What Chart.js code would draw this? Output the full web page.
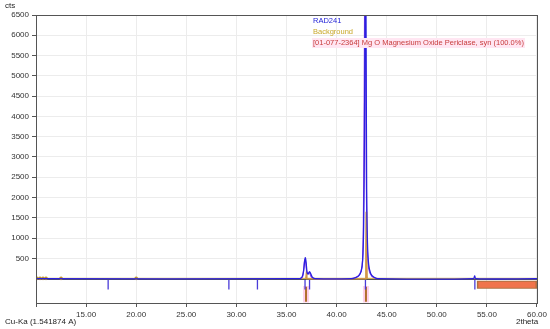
<!DOCTYPE html>
<html>
<head>
<meta charset="utf-8">
<script src="https://cdn.jsdelivr.net/npm/chart.js@4/dist/chart.umd.min.js"></script>
<style>
  html, body { margin: 0; padding: 0; background: #fff; }
  #wrap { width: 550px; height: 329px; }
</style>
</head>
<body>
<div id="wrap"><canvas id="xrd" width="550" height="329"></canvas></div>
<script>
// measured pattern RAD241 (2theta, counts)
const rad241Theta = [10, 36.3, 36.55, 36.7, 36.8, 36.87, 36.95, 37.05, 37.15, 37.3, 37.42, 37.6, 37.9,
  41.5, 41.9, 42.2, 42.45, 42.6, 42.7, 42.78, 42.84, 42.88, 42.93, 43.0, 43.08, 43.2, 43.4, 43.7, 44.1,
  53.65, 53.78, 53.9, 60];
const rad241Cts = [0, 0, 40, 180, 400, 520, 420, 160, 110, 175, 120, 30, 0,
  0, 25, 70, 180, 450, 1300, 3500, 6600, 7800, 6800, 2200, 900, 350, 130, 40, 0,
  0, 70, 0, 0];

// calculated profile (violet)
const profileTheta = [36.3, 36.6, 36.72, 36.82, 36.92, 37.05, 37.2, 37.3, 37.45, 37.8,
  41.4, 41.9, 42.3, 42.55, 42.66, 42.74, 42.8, 42.85, 42.95, 43.05, 43.2, 43.5, 44.0];
const profileCts = [0, 40, 250, 470, 380, 130, 140, 150, 50, 0,
  0, 30, 100, 320, 1100, 3600, 7000, 7800, 3000, 900, 250, 60, 0];

// background
const bgTheta = [10, 60];
const bgCts = [8, 8];
const bgMarkTheta = [10.1, 10.4, 10.7, 11.0, 12.5, 20.0];

// orange peak component
const compTheta = [36.93, 36.98, 37.03, 42.86, 42.92, 42.95, 42.99, 43.05];
const compCts = [0, 120, 0, 0, 700, 1650, 650, 0];

// peak positions (blue sticks under axis)
const peakPos = [17.2, 29.25, 32.1, 36.85, 37.3, 42.88, 53.8];
// reference pattern 01-077-2364 (brown sticks)
const refPos = [36.95, 42.93];

const yTicks = [500, 1000, 1500, 2000, 2500, 3000, 3500, 4000, 4500, 5000, 5500, 6000, 6500];
const xTicks = [10, 15, 20, 25, 30, 35, 40, 45, 50, 55, 60];

const legendLines = [
  { text: 'RAD241', color: '#2424d8' },
  { text: 'Background', color: '#c8a828' },
  { text: '[01-077-2364] Mg O Magnesium Oxide Periclase, syn (100.0%)', color: '#c83c3c', bg: '#ffe6f2' }
];

const pts = (xs, ys) => xs.map((x, i) => ({ x: x, y: ys[i] }));
const sticks = (xs, y0, y1) => {
  const out = [];
  xs.forEach(x => { out.push({ x: x, y: y0 }, { x: x, y: y1 }, { x: x, y: null }); });
  return out;
};

const font = 'Liberation Sans, Arial, sans-serif';

const extras = {
  id: 'extras',
  beforeDatasetsDraw(chart) {
    const { ctx, chartArea: a, scales: { y } } = chart;
    // zero line
    ctx.save();
    ctx.strokeStyle = '#555';
    ctx.lineWidth = 1;
    const y0 = Math.round(y.getPixelForValue(0)) + 0.5;
    ctx.beginPath(); ctx.moveTo(a.left, y0); ctx.lineTo(a.right, y0); ctx.stroke();
    ctx.restore();
  },
  afterDraw(chart) {
    const { ctx, chartArea: a } = chart;
    ctx.save();
    ctx.strokeStyle = '#555';
    ctx.lineWidth = 1;
    ctx.strokeRect(Math.round(a.left) + 0.5, Math.round(a.top) + 0.5, Math.round(a.right - a.left), Math.round(a.bottom - a.top));
    ctx.font = '7.5px ' + font;
    ctx.textBaseline = 'middle';
    ctx.textAlign = 'left';
    legendLines.forEach((l, i) => {
      const ty = 21 + i * 11;
      if (l.bg) {
        ctx.fillStyle = l.bg;
        ctx.fillRect(312, ty - 5, ctx.measureText(l.text).width + 2, 10);
      }
      ctx.fillStyle = l.color;
      ctx.fillText(l.text, 313, ty);
    });
    ctx.font = '8px ' + font;
    ctx.fillStyle = '#222';
    ctx.fillText('cts', 5, 6);
    ctx.fillText('Cu-Ka (1.541874 A)', 5, 322);
    ctx.fillText('2theta', 516, 322);
    ctx.restore();
  }
};

new Chart(document.getElementById('xrd').getContext('2d'), {
  type: 'line',
  data: {
    datasets: [
      { label: 'bar', data: [{ x: 54, y: -150 }, { x: 60, y: -150 }], borderColor: '#b07040', borderWidth: 8, pointRadius: 0, order: 9 },
      { label: 'bar2', data: [{ x: 54.15, y: -150 }, { x: 59.85, y: -150 }], borderColor: '#f0744c', borderWidth: 6, pointRadius: 0, order: 8 },
      { label: 'refShade', data: sticks(refPos, -180, -590), borderColor: 'rgba(255,190,225,0.7)', borderWidth: 6, pointRadius: 0, spanGaps: false, order: 7 },
      { label: 'ref', data: sticks(refPos, -200, -570), borderColor: '#b0702c', borderWidth: 2, pointRadius: 0, spanGaps: false, order: 6 },
      { label: 'peaks', data: sticks(peakPos, -30, -270), borderColor: '#4a3cd8', borderWidth: 1.3, pointRadius: 0, spanGaps: false, order: 5 },
      { label: 'Background', data: pts(bgTheta, bgCts), borderColor: '#c8a030', borderWidth: 1, pointRadius: 0, order: 4 },
      { label: 'bgMarks', data: bgMarkTheta.map(t => ({ x: t, y: 8 })), showLine: false, pointRadius: 1.8, pointBackgroundColor: '#b89030', pointBorderWidth: 0, order: 4 },
      { label: 'profile', data: pts(profileTheta, profileCts), borderColor: '#9a4ae6', borderWidth: 1.2, pointRadius: 0, tension: 0.3, order: 3 },
      { label: 'comp', data: pts(compTheta, compCts), borderColor: '#d09848', borderWidth: 1.5, pointRadius: 0, order: 2 },
      { label: 'RAD241', data: pts(rad241Theta, rad241Cts), borderColor: '#2a20e0', borderWidth: 1.3, pointRadius: 0, tension: 0.3, order: 1 }
    ]
  },
  options: {
    responsive: false,
    animation: false,
    layout: { padding: { top: 15, right: 12, left: 0, bottom: 0 } },
    plugins: { legend: { display: false }, tooltip: { enabled: false } },
    scales: {
      x: {
        type: 'linear', min: 10, max: 60,
        afterFit(s) { s.height = 26; },
        afterBuildTicks(s) { s.ticks = xTicks.map(v => ({ value: v })); },
        grid: { color: '#ececec', tickColor: '#555', tickLength: 4 },
        border: { color: '#555' },
        ticks: { font: { family: font, size: 8 }, color: '#333', padding: 3, maxRotation: 0,
          callback: v => v === 10 ? '' : v.toFixed(2) }
      },
      y: {
        min: -600, max: 6500,
        afterFit(s) { s.width = 36; },
        afterBuildTicks(s) { s.ticks = yTicks.map(v => ({ value: v })); },
        grid: { color: '#ececec', tickColor: '#555', tickLength: 4 },
        border: { color: '#555' },
        ticks: { font: { family: font, size: 8 }, color: '#333', padding: 3, callback: v => String(v) }
      }
    }
  },
  plugins: [extras]
});
</script>
</body>
</html>
